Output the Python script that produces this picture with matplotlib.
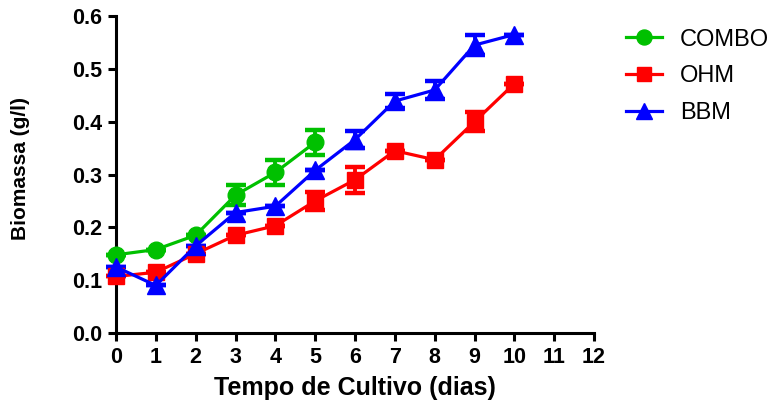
import matplotlib
matplotlib.use("Agg")
import matplotlib.pyplot as plt
from matplotlib.lines import Line2D
import numpy as np

plt.rcParams['font.family'] = ['Liberation Sans', 'DejaVu Sans']

# dados
dias_combo = [0, 1, 2, 3, 4, 5]
combo = [0.148, 0.158, 0.185, 0.261, 0.304, 0.361]
combo_err = [0.0, 0.0, 0.0, 0.019, 0.024, 0.024]

dias = [0, 1, 2, 3, 4, 5, 6, 7, 8, 9, 10]
ohm = [0.107, 0.115, 0.150, 0.185, 0.203, 0.250, 0.290, 0.345, 0.328, 0.400, 0.472]
ohm_err = [0.0, 0.0, 0.0, 0.0, 0.0, 0.017, 0.025, 0.0, 0.0, 0.018, 0.0]

bbm = [0.125, 0.090, 0.165, 0.228, 0.240, 0.308, 0.366, 0.439, 0.460, 0.545, 0.565]
bbm_err = [0.0, 0.0, 0.0, 0.0, 0.0, 0.0, 0.016, 0.013, 0.017, 0.019, 0.0]

series = [
    ('COMBO', dias_combo, combo, combo_err, '#00c000', 'o', 12),
    ('OHM', dias, ohm, ohm_err, '#ff0000', 's', 11.5),
    ('BBM', dias, bbm, bbm_err, '#0000ff', '^', 13),
]

fig = plt.figure(figsize=(7.77, 4.09), dpi=100)
ax = fig.add_axes([0.1493, 0.1858, 0.6152, 0.775])

handles = []
for nome, x, y, err, cor, mk, ms in series:
    ax.errorbar(x, y, yerr=err, color=cor, marker=mk, markersize=ms, lw=2.3,
                capsize=7.5, capthick=3.2, elinewidth=2.8, clip_on=False, zorder=3)
    handles.append(Line2D([], [], color=cor, marker=mk, markersize=ms * 0.9, lw=2.3, label=nome))

ax.set_xlim(0, 12)
ax.set_ylim(0, 0.6)
ax.set_xticks(range(0, 13))
ax.set_yticks(np.arange(0, 0.61, 0.1))
ax.set_yticklabels([f"{v:.1f}" for v in np.arange(0, 0.61, 0.1)])
for s in ['top', 'right']:
    ax.spines[s].set_visible(False)
for s in ['left', 'bottom']:
    ax.spines[s].set_linewidth(2.2)
ax.tick_params(direction='out', length=6, width=2.2, labelsize=15.5, pad=4)
for lab in ax.get_xticklabels() + ax.get_yticklabels():
    lab.set_fontweight('bold')

ax.set_xlabel('Tempo de Cultivo (dias)', fontsize=18, fontweight='bold', labelpad=6)
ax.set_ylabel('Biomassa (g/l)', fontsize=15, fontweight='bold')
ax.yaxis.set_label_coords(-0.18, 0.52)

ax.legend(handles=handles, loc='upper left', bbox_to_anchor=(1.067, 0.96), frameon=False,
          borderpad=0, borderaxespad=0, fontsize=17, handlelength=1.53,
          handletextpad=0.76, labelspacing=0.62)

fig.savefig('out.png', dpi=100)
